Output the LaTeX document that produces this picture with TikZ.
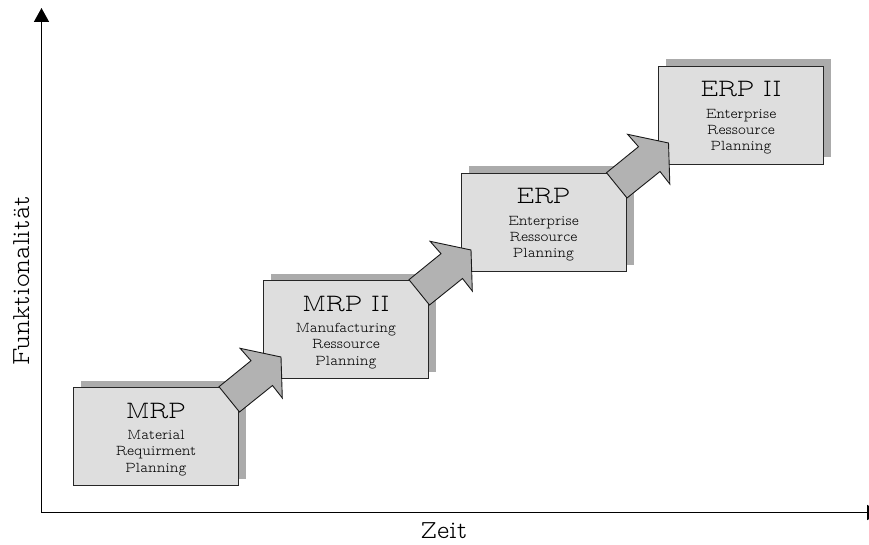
\documentclass[tikz,border=0pt]{standalone}
\usepackage{fontspec}
\setmainfont{lmmonoproplt10-regular.otf}
\usetikzlibrary{arrows.meta,calc}
\begin{document}
\begin{tikzpicture}[x=1pt,y=-1pt,
  box/.style={draw=black!85, line width=0.9pt, fill=gray!26, minimum width=165pt, minimum height=98pt, inner sep=0pt, outer sep=0pt, anchor=north west},
  shadowbox/.style={fill=gray!66, draw=none, minimum width=165pt, minimum height=98pt, inner sep=0pt, outer sep=0pt, anchor=north west},
  title/.style={font=\fontsize{25}{28}\selectfont, anchor=base, inner sep=0pt},
  sub/.style={font=\fontsize{15}{17}\selectfont, anchor=base, inner sep=0pt},
  bigarrow/.style={draw=black!90, line width=0.9pt, fill=gray!60, line join=miter},
  axis/.style={line width=1.6pt, -{Triangle[width=15pt,length=14pt]}},
  axislabel/.style={font=\fontsize{26}{28}\selectfont, inner sep=0pt}
]
\useasboundingbox (0,0) rectangle (869,545);
\clip (0,0) rectangle (869,545);

% axes
\coordinate (O) at (41.5,512.5);
\coordinate (Y) at (41.5,8);
\coordinate (X) at (881,512.5);
\draw[axis] (O) -- (Y);
\draw[axis] (O) -- (X);
\node[axislabel, rotate=90, anchor=base] (ylab) at (29.5,281) {Funktionalität};
\node[axislabel, anchor=base] (xlab) at (444,538) {Zeit};

% shadows
\node[shadowbox] (s1) at (81,380.5) {};
\node[shadowbox] (s2) at (271,273.5) {};
\node[shadowbox] (s3) at (468.5,166.5) {};
\node[shadowbox] (s4) at (666,59.5) {};

% boxes
\node[box] (b1) at (73.5,387) {};
\node[box] (b2) at (263.5,280) {};
\node[box] (b3) at (461,173) {};
\node[box] (b4) at (658.5,66) {};

% texts
\node[title] (t1) at ($(b1.north)+(0,31)$) {MRP};
\node[sub] (u1a) at ($(b1.north)+(0,52.5)$) {Material};
\node[sub] (u1b) at ($(b1.north)+(0,68.8)$) {Requirment};
\node[sub] (u1c) at ($(b1.north)+(0,85)$) {Planning};

\node[title] (t2) at ($(b2.north)+(0,31)$) {MRP II};
\node[sub] (u2a) at ($(b2.north)+(0,52.5)$) {Manufacturing};
\node[sub] (u2b) at ($(b2.north)+(0,68.8)$) {Ressource};
\node[sub] (u2c) at ($(b2.north)+(0,85)$) {Planning};

\node[title] (t3) at ($(b3.north)+(0,31)$) {ERP};
\node[sub] (u3a) at ($(b3.north)+(0,52.5)$) {Enterprise};
\node[sub] (u3b) at ($(b3.north)+(0,68.8)$) {Ressource};
\node[sub] (u3c) at ($(b3.north)+(0,85)$) {Planning};

\node[title] (t4) at ($(b4.north)+(0,31)$) {ERP II};
\node[sub] (u4a) at ($(b4.north)+(0,52.5)$) {Enterprise};
\node[sub] (u4b) at ($(b4.north)+(0,68.8)$) {Ressource};
\node[sub] (u4c) at ($(b4.north)+(0,85)$) {Planning};

% block arrows
\foreach \bx in {b1,b2,b3}{
  \draw[bigarrow, shift={(\bx.north east)}]
    (-19.5,-0.3) -- (12.5,-26.3) -- (1.6,-38.7) -- (42.5,-30)
    -- (43.8,11) -- (34,-1.5) -- (1,25) -- cycle;
}
\end{tikzpicture}
\end{document}
